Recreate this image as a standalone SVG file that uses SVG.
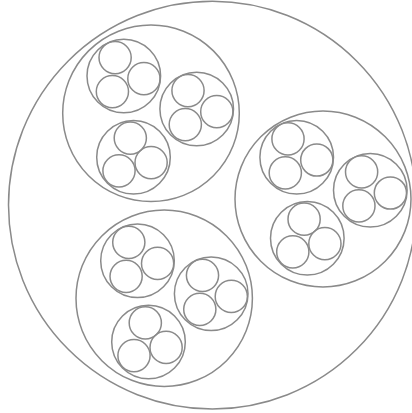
<svg xmlns="http://www.w3.org/2000/svg" width="412" height="413" viewBox="0 0 412 413">
<style>
circle{fill:none;stroke:#8a8a8a;stroke-width:1.5}
</style>
<rect width="412" height="413" fill="#fff"/>
<g id="root"><circle cx="212.4" cy="205.1" r="203.9"/></g>
<g id="n1"><circle cx="151" cy="113.3" r="88.3"/></g>
<g id="n2"><circle cx="323" cy="199" r="88"/></g>
<g id="n3"><circle cx="164.2" cy="298.3" r="88.2"/></g>
<g id="n1-1"><circle cx="123.8" cy="76" r="36.8"/></g>
<g id="n1-2"><circle cx="196.7" cy="109" r="36.8"/></g>
<g id="n1-3"><circle cx="133.5" cy="157.2" r="36.8"/></g>
<g id="n2-1"><circle cx="296.7" cy="157.3" r="36.8"/></g>
<g id="n2-2"><circle cx="370.3" cy="190.3" r="36.8"/></g>
<g id="n2-3"><circle cx="307.3" cy="238.3" r="36.8"/></g>
<g id="n3-1"><circle cx="137.5" cy="260.7" r="36.8"/></g>
<g id="n3-2"><circle cx="211.2" cy="293.7" r="36.8"/></g>
<g id="n3-3"><circle cx="148.5" cy="342" r="36.8"/></g>
<g id="n1-1-1"><circle cx="115.1" cy="57.6" r="16.1"/></g>
<g id="n1-1-2"><circle cx="143.9" cy="78.7" r="16.1"/></g>
<g id="n1-1-3"><circle cx="112.4" cy="91.6" r="16.1"/></g>
<g id="n1-2-1"><circle cx="188" cy="90.6" r="16.1"/></g>
<g id="n1-2-2"><circle cx="216.8" cy="111.7" r="16.1"/></g>
<g id="n1-2-3"><circle cx="185.3" cy="124.6" r="16.1"/></g>
<g id="n1-3-1"><circle cx="130.3" cy="138.1" r="16.1"/></g>
<g id="n1-3-2"><circle cx="119" cy="170.8" r="16.1"/></g>
<g id="n1-3-3"><circle cx="151.1" cy="162.6" r="16.1"/></g>
<g id="n2-1-1"><circle cx="288" cy="138.9" r="16.1"/></g>
<g id="n2-1-2"><circle cx="316.8" cy="160" r="16.1"/></g>
<g id="n2-1-3"><circle cx="285.3" cy="172.9" r="16.1"/></g>
<g id="n2-2-1"><circle cx="361.6" cy="171.9" r="16.1"/></g>
<g id="n2-2-2"><circle cx="390.4" cy="193" r="16.1"/></g>
<g id="n2-2-3"><circle cx="358.9" cy="205.9" r="16.1"/></g>
<g id="n2-3-1"><circle cx="304.1" cy="219.2" r="16.1"/></g>
<g id="n2-3-2"><circle cx="292.8" cy="251.9" r="16.1"/></g>
<g id="n2-3-3"><circle cx="324.9" cy="243.7" r="16.1"/></g>
<g id="n3-1-1"><circle cx="128.8" cy="242.3" r="16.1"/></g>
<g id="n3-1-2"><circle cx="157.6" cy="263.4" r="16.1"/></g>
<g id="n3-1-3"><circle cx="126.1" cy="276.3" r="16.1"/></g>
<g id="n3-2-1"><circle cx="202.5" cy="275.3" r="16.1"/></g>
<g id="n3-2-2"><circle cx="231.3" cy="296.4" r="16.1"/></g>
<g id="n3-2-3"><circle cx="199.8" cy="309.3" r="16.1"/></g>
<g id="n3-3-1"><circle cx="145.3" cy="322.9" r="16.1"/></g>
<g id="n3-3-2"><circle cx="134" cy="355.6" r="16.1"/></g>
<g id="n3-3-3"><circle cx="166.1" cy="347.4" r="16.1"/></g>
<g id="connectors"></g>
</svg>
